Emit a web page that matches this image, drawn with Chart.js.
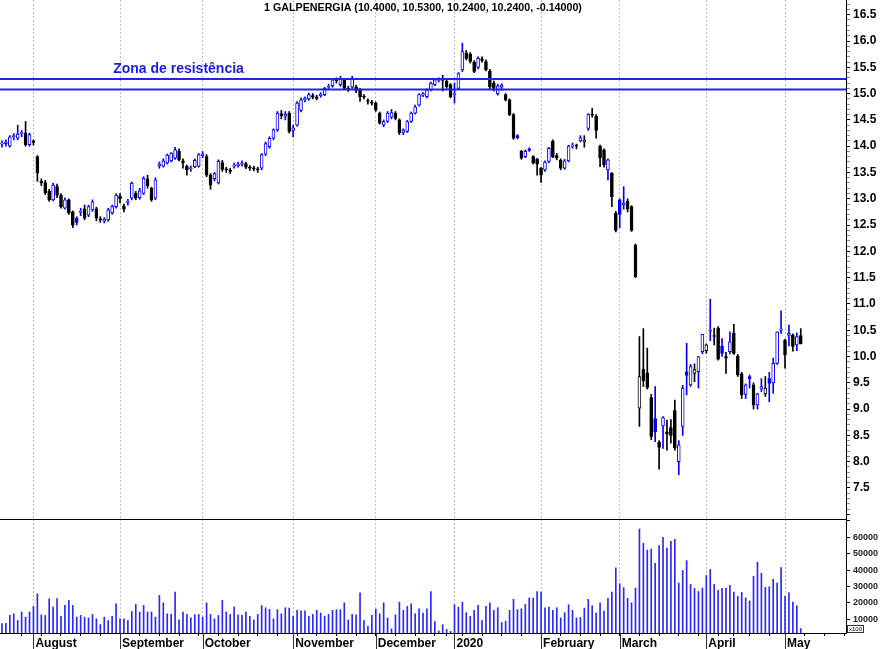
<!DOCTYPE html>
<html>
<head>
<meta charset="utf-8">
<script src="https://cdn.jsdelivr.net/npm/chart.js@4.4.1/dist/chart.umd.min.js"></script>
<style>
  html, body { margin: 0; padding: 0; background: #fff; }
  #wrap { position: relative; width: 880px; height: 649px; overflow: hidden; }
  canvas { position: absolute; left: 0; }
  #price { top: 0; }
  #vol { top: 519px; }
</style>
</head>
<body>
<div id="wrap">
  <canvas id="price" width="880" height="519"></canvas>
  <canvas id="vol" width="880" height="130"></canvas>
</div>
<script>
// trading calendar (Euronext Lisbon), 22 Jul 2019 onwards, some empty slots at the right
const FIRST_DAY = '2019-07-22';
const SLOTS = 215;
const HOLIDAYS = ['2019-12-25', '2019-12-26', '2020-01-01', '2020-04-10', '2020-04-13', '2020-05-01'];
const MONTH_LABELS = ['2020', 'February', 'March', 'April', 'May', 'June', 'July',
                      'August', 'September', 'October', 'November', 'December'];
const VOLUME_TICKS = [10000, 20000, 30000, 40000, 50000, 60000, 70000];

const OPEN = [
  14.04, 14.05, 14.00, 14.18, 14.15, 14.24, 14.25, 14.03, 14.10, 13.80,
  13.33, 13.31, 13.14, 12.98, 13.23, 13.07, 12.82, 12.98, 12.75, 12.63,
  12.74, 12.81, 12.69, 12.79, 12.81, 12.62, 12.58, 12.60, 12.73, 12.85,
  13.05, 12.86, 12.93, 13.01, 13.11, 13.02, 13.10, 13.38, 13.20, 13.01,
  13.63, 13.62, 13.68, 13.72, 13.77, 13.90, 13.72, 13.62, 13.57, 13.61,
  13.62, 13.82, 13.80, 13.45, 13.38, 13.30, 13.69, 13.57, 13.54, 13.62,
  13.63, 13.66, 13.67, 13.60, 13.58, 13.57, 13.58, 13.85, 13.99, 14.15,
  14.31, 14.62, 14.57, 14.63, 14.30, 14.40, 14.68, 14.88, 14.90, 14.96,
  14.94, 14.96, 14.98, 15.12, 15.15, 15.26, 15.17, 15.26, 15.10, 15.12,
  15.13, 15.07, 14.94, 14.86, 14.83, 14.82, 14.63, 14.40, 14.47, 14.55,
  14.63, 14.50, 14.26, 14.28, 14.47, 14.63, 14.78, 14.97, 14.94, 15.07,
  15.17, 15.25, 15.26, 15.24, 15.17, 14.98, 15.10, 15.45, 15.77, 15.75,
  15.60, 15.50, 15.66, 15.61, 15.43, 15.20, 15.00, 15.12, 14.98, 14.88,
  14.60, 14.20, 13.90, 13.80, 13.95, 13.80, 13.75, 13.58, 13.55, 13.71,
  14.09, 13.82, 13.73, 13.58, 13.72, 14.00, 14.01, 14.10, 14.08, 14.34,
  14.61, 14.57, 14.00, 13.93, 13.55, 13.49, 12.73, 12.98, 12.88, 12.95,
  12.85, 12.12, 9.02, 9.76, 9.69, 9.22, 8.82, 8.37, 8.68, 8.57,
  8.65, 8.97, 8.00, 8.67, 9.71, 9.46, 9.68, 9.71, 10.09, 10.11,
  10.48, 10.40, 10.54, 10.20, 10.00, 10.09, 10.44, 10.01, 9.67, 9.28,
  9.62, 9.46, 9.08, 9.38, 9.29, 9.58, 9.50, 9.87, 10.50, 10.31,
  10.40, 10.41, 10.22, 10.40
];
const HIGH = [
  14.10, 14.12, 14.20, 14.24, 14.40, 14.30, 14.47, 14.25, 14.12, 13.82,
  13.38, 13.35, 13.18, 13.30, 13.28, 13.10, 13.02, 13.00, 12.77, 12.66,
  12.82, 12.88, 12.88, 12.98, 12.84, 12.66, 12.64, 12.82, 12.88, 13.10,
  13.10, 12.90, 12.99, 13.32, 13.14, 13.20, 13.42, 13.45, 13.22, 13.40,
  13.70, 13.76, 13.85, 13.88, 13.98, 13.95, 13.76, 13.64, 13.62, 13.76,
  13.86, 13.90, 13.84, 13.48, 13.50, 13.74, 13.73, 13.60, 13.58, 13.68,
  13.70, 13.72, 13.70, 13.63, 13.62, 13.60, 13.86, 14.08, 14.18, 14.33,
  14.66, 14.68, 14.66, 14.66, 14.40, 14.85, 14.92, 14.94, 15.01, 15.00,
  14.97, 15.02, 15.12, 15.18, 15.28, 15.30, 15.33, 15.28, 15.14, 15.33,
  15.16, 15.10, 14.98, 14.90, 14.87, 14.84, 14.65, 14.50, 14.66, 14.70,
  14.66, 14.52, 14.33, 14.49, 14.65, 14.78, 15.00, 15.02, 15.09, 15.22,
  15.28, 15.30, 15.35, 15.26, 15.19, 15.20, 15.40, 15.96, 15.82, 15.78,
  15.63, 15.70, 15.70, 15.64, 15.46, 15.24, 15.18, 15.19, 15.00, 14.90,
  14.62, 14.22, 13.92, 13.93, 13.97, 13.82, 13.77, 13.60, 13.72, 13.98,
  14.12, 13.86, 13.76, 13.75, 14.02, 14.06, 14.04, 14.20, 14.20, 14.62,
  14.72, 14.60, 14.02, 13.95, 13.76, 13.50, 12.76, 13.00, 13.23, 13.00,
  12.87, 12.14, 10.38, 10.53, 10.16, 9.28, 9.43, 8.40, 8.86, 8.79,
  8.80, 9.17, 8.40, 9.45, 10.25, 9.85, 9.86, 10.00, 10.42, 10.24,
  11.09, 10.54, 10.57, 10.34, 10.08, 10.47, 10.61, 10.04, 9.70, 9.48,
  9.65, 9.50, 9.30, 9.58, 9.62, 9.70, 9.97, 10.47, 10.87, 10.33,
  10.60, 10.43, 10.45, 10.53
];
const LOW = [
  13.98, 14.00, 13.98, 14.12, 14.12, 14.18, 14.00, 14.00, 14.02, 13.33,
  13.25, 13.08, 12.95, 12.96, 13.02, 12.82, 12.80, 12.70, 12.45, 12.50,
  12.68, 12.60, 12.66, 12.76, 12.58, 12.55, 12.54, 12.57, 12.70, 12.82,
  12.92, 12.75, 12.88, 12.98, 12.98, 12.99, 13.08, 13.20, 12.95, 12.98,
  13.58, 13.60, 13.66, 13.70, 13.75, 13.72, 13.58, 13.45, 13.52, 13.59,
  13.60, 13.78, 13.42, 13.18, 13.34, 13.28, 13.52, 13.50, 13.48, 13.58,
  13.60, 13.62, 13.57, 13.54, 13.53, 13.50, 13.55, 13.82, 13.96, 14.12,
  14.28, 14.52, 14.50, 14.25, 14.18, 14.38, 14.65, 14.84, 14.87, 14.90,
  14.88, 14.93, 14.96, 15.08, 15.12, 15.20, 15.14, 15.08, 15.04, 15.10,
  15.02, 14.85, 14.90, 14.80, 14.78, 14.66, 14.42, 14.37, 14.45, 14.52,
  14.50, 14.22, 14.22, 14.26, 14.45, 14.61, 14.76, 14.94, 14.92, 15.05,
  15.15, 15.22, 15.05, 15.10, 14.92, 14.82, 15.08, 15.42, 15.64, 15.58,
  15.40, 15.47, 15.60, 15.43, 15.08, 15.05, 14.97, 15.06, 14.86, 14.58,
  14.13, 14.14, 13.75, 13.78, 13.90, 13.66, 13.45, 13.31, 13.52, 13.68,
  13.78, 13.74, 13.55, 13.56, 13.70, 13.96, 13.95, 14.08, 13.98, 14.30,
  14.55, 14.15, 13.61, 13.60, 13.36, 12.85, 12.37, 12.45, 12.80, 12.75,
  12.38, 11.50, 8.67, 9.43, 9.38, 8.42, 8.38, 7.86, 8.25, 8.22,
  8.35, 8.22, 7.75, 8.50, 9.27, 9.43, 9.52, 9.40, 10.05, 10.06,
  10.30, 10.22, 9.93, 10.00, 9.68, 10.05, 10.04, 9.62, 9.20, 9.20,
  9.40, 9.00, 9.00, 9.33, 9.24, 9.14, 9.30, 9.85, 10.44, 9.78,
  10.20, 10.10, 10.11, 10.24
];
const CLOSE = [
  14.06, 14.08, 14.18, 14.20, 14.23, 14.25, 14.03, 14.22, 14.07, 13.49,
  13.30, 13.11, 12.98, 13.26, 13.07, 12.85, 12.98, 12.73, 12.50, 12.55,
  12.76, 12.63, 12.85, 12.94, 12.63, 12.60, 12.61, 12.79, 12.85, 13.07,
  13.00, 12.80, 12.95, 13.30, 13.01, 13.15, 13.39, 13.25, 12.98, 13.36,
  13.66, 13.72, 13.83, 13.87, 13.93, 13.74, 13.68, 13.55, 13.59, 13.73,
  13.84, 13.85, 13.45, 13.26, 13.48, 13.71, 13.56, 13.55, 13.52, 13.64,
  13.66, 13.68, 13.60, 13.58, 13.57, 13.55, 13.84, 14.05, 14.15, 14.31,
  14.63, 14.58, 14.61, 14.28, 14.35, 14.82, 14.88, 14.91, 14.98, 14.93,
  14.91, 14.99, 15.10, 15.14, 15.26, 15.24, 15.27, 15.10, 15.08, 15.28,
  15.06, 14.94, 14.93, 14.85, 14.82, 14.69, 14.44, 14.47, 14.63, 14.64,
  14.53, 14.25, 14.31, 14.47, 14.63, 14.75, 14.98, 15.00, 15.07, 15.20,
  15.26, 15.27, 15.25, 15.13, 14.94, 15.00, 15.38, 15.80, 15.67, 15.61,
  15.42, 15.67, 15.63, 15.45, 15.13, 15.10, 15.15, 15.16, 14.88, 14.60,
  14.15, 14.16, 13.77, 13.90, 13.92, 13.68, 13.66, 13.45, 13.70, 13.96,
  13.80, 13.78, 13.58, 13.72, 14.00, 14.02, 14.00, 14.16, 14.12, 14.60,
  14.59, 14.30, 13.78, 13.65, 13.74, 13.04, 12.40, 12.70, 12.92, 12.80,
  12.40, 11.52, 9.62, 9.54, 9.41, 8.48, 8.57, 8.27, 8.84, 8.53,
  8.50, 8.26, 8.32, 9.40, 9.64, 9.81, 9.75, 10.00, 10.42, 10.22,
  10.50, 10.38, 9.95, 10.06, 9.97, 10.28, 10.06, 9.65, 9.27, 9.46,
  9.58, 9.08, 9.29, 9.43, 9.40, 9.49, 9.87, 10.47, 10.52, 10.03,
  10.44, 10.19, 10.38, 10.24
];
const VOLUME = [
  7400, 7600, 12400, 13400, 9300, 14500, 11400, 14500, 17900, 25600,
  12800, 12400, 22600, 17500, 22600, 11900, 18500, 21600, 18500, 11400,
  12400, 11400, 10900, 13000, 10300, 6900, 11400, 9300, 11900, 19500,
  10300, 10300, 9300, 14800, 19100, 14500, 18500, 14500, 14500, 11400,
  24600, 20100, 13400, 13000, 26600, 9700, 14500, 13000, 10900, 12800,
  13000, 11400, 20100, 13000, 10300, 12400, 21600, 14500, 13000, 17500,
  12800, 12400, 14500, 11900, 9700, 13000, 18500, 17100, 16100, 10300,
  15900, 13400, 17100, 16900, 11900, 15500, 15200, 15200, 11900, 13000,
  15500, 13900, 11900, 13000, 15500, 15900, 15900, 20100, 9700, 13000,
  12800, 26200, 9300, 5700, 12400, 16300, 13400, 20100, 10900, 4300,
  12800, 20500, 15500, 17900, 19500, 13400, 16500, 13900, 16500, 27000,
  8700, 3000, 6800, 3900, 2700, 18900, 17500, 20500, 14100, 11900,
  15500, 18500, 9300, 17900, 20100, 15500, 17100, 8100, 8900, 15500,
  22200, 15900, 16500, 19100, 23100, 22900, 27000, 26600, 17100, 17500,
  15500, 17100, 10900, 14100, 18900, 15500, 10900, 11100, 16900, 22200,
  18300, 13800, 20100, 15000, 22900, 26600, 41400, 31700, 29300, 22900,
  20100, 29100, 65100, 56400, 52300, 52900, 44200, 54900, 60000, 53500,
  57600, 58800, 32100, 39800, 45800, 31300, 28900, 27000, 29100, 36700,
  40400, 31300, 27700, 28900, 29100, 30700, 26600, 24000, 26400, 23100,
  21300, 36300, 44800, 38100, 29500, 29900, 34500, 32100, 41600, 24000,
  26400, 20500, 18300, 4400
];
const RESISTANCE = [15.28, 15.08];
const RESISTANCE_LABEL = 'Zona de resistência';
const TITLE = '1 GALPENERGIA (10.4000, 10.5300, 10.2400, 10.2400, -0.14000)';

const DATES = [];
for (let d = new Date(FIRST_DAY + 'T00:00:00Z'); DATES.length < SLOTS; d.setUTCDate(d.getUTCDate() + 1)) {
  const wd = d.getUTCDay();
  const iso = d.toISOString().slice(0, 10);
  if (wd === 0 || wd === 6 || HOLIDAYS.includes(iso)) continue;
  DATES.push(iso);
}
const weekday = s => new Date(s + 'T00:00:00Z').getUTCDay();
const isMonthStart = i => i > 0 && DATES[i].slice(5, 7) !== DATES[i - 1].slice(5, 7);
const isWeekStart = i => i > 0 && weekday(DATES[i]) <= weekday(DATES[i - 1]);
const isHalf = v => Math.abs(v * 2 - Math.round(v * 2)) < 1e-6;

const BLUE = '#0000ff';
const BLACK = '#000000';
const GRID = '#bdbdbd';
const NONE = 'rgba(0,0,0,0)';
const FONT = '"Liberation Sans", Arial, Helvetica, sans-serif';
Chart.defaults.font.family = FONT;

const candleColor = i => CLOSE[i] >= (i > 0 ? CLOSE[i - 1] : OPEN[i]) ? BLUE : BLACK;
const hollow = i => CLOSE[i] > OPEN[i];

// keep the plot flush with the canvas edges
const noPad = s => { s.paddingTop = 0; s.paddingBottom = 0; s.paddingLeft = 0; s.paddingRight = 0; };

const overlay = {
  id: 'overlay',
  afterDatasetsDraw(chart) {
    const { ctx, chartArea, scales } = chart;
    ctx.save();
    ctx.strokeStyle = '#2323e6';
    ctx.lineWidth = 2;
    RESISTANCE.forEach(v => {
      const y = scales.y.getPixelForValue(v);
      ctx.beginPath();
      ctx.moveTo(chartArea.left, y);
      ctx.lineTo(chartArea.right, y);
      ctx.stroke();
    });
    ctx.fillStyle = '#1a1ae6';
    ctx.font = 'bold 14px ' + FONT;
    ctx.textBaseline = 'middle';
    ctx.textAlign = 'left';
    ctx.fillText(RESISTANCE_LABEL, scales.x.getPixelForValue(28) + 1, scales.y.getPixelForValue(RESISTANCE[0]) - 9.5);
    ctx.fillStyle = '#000';
    ctx.font = 'bold 10.7px ' + FONT;
    ctx.textAlign = 'center';
    ctx.fillText(TITLE, (chartArea.left + chartArea.right) / 2, 8);
    ctx.restore();
  }
};

new Chart(document.getElementById('price'), {
  type: 'bar',
  data: {
    labels: DATES,
    datasets: [{
      data: OPEN.map((o, i) => [o, CLOSE[i]]),
      grouped: false,
      order: 1,
      barThickness: 3,
      minBarLength: 1,
      borderWidth: 1,
      borderSkipped: false,
      borderColor: c => candleColor(c.dataIndex),
      backgroundColor: c => hollow(c.dataIndex) ? '#ffffff' : candleColor(c.dataIndex)
    }, {
      data: LOW.map((l, i) => [l, HIGH[i]]),
      grouped: false,
      order: 2,
      barThickness: 1,
      borderWidth: 0,
      backgroundColor: c => candleColor(c.dataIndex)
    }]
  },
  options: {
    responsive: false,
    animation: false,
    devicePixelRatio: 1,
    layout: { padding: 0 },
    plugins: { legend: { display: false }, tooltip: { enabled: false } },
    scales: {
      x: {
        offset: true,
        ticks: { display: false },
        grid: { offset: false, drawTicks: false, color: c => isMonthStart(c.index) ? GRID : NONE },
        border: { display: false, dash: [2, 2] },
        afterFit: s => { s.height = 0; noPad(s); }
      },
      y: {
        position: 'right',
        min: 6.91,
        max: 16.78,
        ticks: {
          stepSize: 0.1,
          includeBounds: false,
          autoSkip: false,
          padding: 3,
          color: '#000',
          font: { size: 12, weight: 'bold' },
          callback: v => (v > 7.4 && isHalf(v)) ? v.toFixed(1) : ''
        },
        grid: {
          drawOnChartArea: false,
          tickLength: 4,
          tickColor: c => c.tick && isHalf(c.tick.value) ? '#000' : '#888'
        },
        border: { color: '#000' },
        afterFit: s => { s.width = 34; noPad(s); }
      }
    }
  },
  plugins: [overlay]
});

const volExtras = {
  id: 'volExtras',
  afterDraw(chart) {
    const { ctx, chartArea, scales } = chart;
    ctx.save();
    ctx.strokeStyle = '#000';
    ctx.lineWidth = 1;
    ctx.beginPath();
    ctx.moveTo(chartArea.left, chartArea.top + 0.5);
    ctx.lineTo(chartArea.right, chartArea.top + 0.5);
    ctx.stroke();
    ctx.strokeStyle = '#333';
    DATES.forEach((d, i) => {
      if (!isMonthStart(i)) return;
      const x = Math.round(scales.x.getPixelForValue(i)) + 0.5;
      ctx.beginPath();
      ctx.moveTo(x, chartArea.bottom);
      ctx.lineTo(x, chart.height);
      ctx.stroke();
    });
    ctx.strokeRect(chartArea.right + 1.5, chartArea.bottom - 7.5, 16, 7);
    ctx.fillStyle = '#000';
    ctx.font = '6px ' + FONT;
    ctx.textBaseline = 'middle';
    ctx.fillText('x100', chartArea.right + 3, chartArea.bottom - 4);
    ctx.restore();
  }
};

new Chart(document.getElementById('vol'), {
  type: 'bar',
  data: {
    labels: DATES,
    datasets: [{
      data: VOLUME,
      barThickness: 1,
      borderWidth: 0,
      backgroundColor: '#2828ff'
    }]
  },
  options: {
    responsive: false,
    animation: false,
    devicePixelRatio: 1,
    layout: { padding: 0 },
    plugins: { legend: { display: false }, tooltip: { enabled: false } },
    scales: {
      x: {
        offset: true,
        ticks: {
          autoSkip: false,
          maxRotation: 0,
          minRotation: 0,
          align: 'start',
          labelOffset: 2,
          padding: 0,
          color: '#000',
          font: { size: 12, weight: 'bold' },
          callback: (v, i) => isMonthStart(i) ? MONTH_LABELS[Number(DATES[i].slice(5, 7)) - 1] : ''
        },
        grid: {
          offset: false,
          tickLength: 3,
          color: c => isMonthStart(c.index) ? GRID : NONE,
          tickColor: c => isWeekStart(c.index) ? '#000' : NONE
        },
        border: { display: true, color: '#000', dash: [2, 2] },
        afterFit: s => { s.height = 16; noPad(s); }
      },
      y: {
        position: 'right',
        min: 1700,
        max: 71160,
        ticks: {
          autoSkip: false,
          padding: 3,
          color: '#222',
          font: { size: 9, weight: 'bold' },
          callback: v => (v <= 60000) ? String(v) : ''
        },
        afterBuildTicks: s => { s.ticks = VOLUME_TICKS.map(v => ({ value: v })); },
        grid: { drawOnChartArea: false, tickLength: 4, tickColor: '#000' },
        border: { color: '#000' },
        afterFit: s => { s.width = 34; noPad(s); }
      }
    }
  },
  plugins: [volExtras]
});
</script>
</body>
</html>
